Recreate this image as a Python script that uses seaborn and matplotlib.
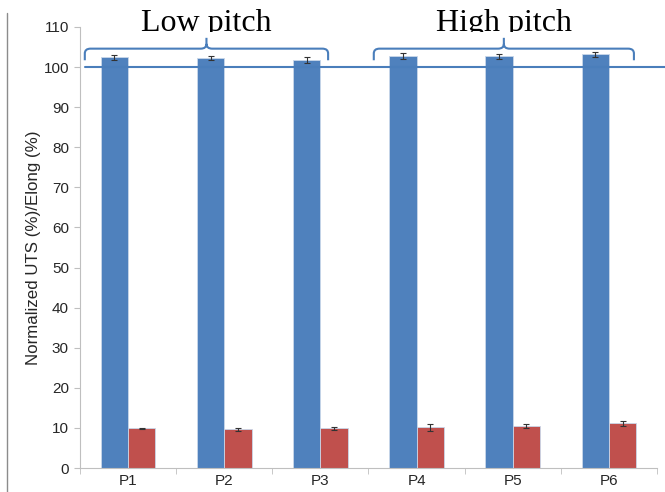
import matplotlib
matplotlib.use("Agg")
import matplotlib.pyplot as plt
import matplotlib.transforms as mtransforms
import seaborn as sns
import pandas as pd
import numpy as np
from matplotlib.path import Path
from matplotlib.patches import PathPatch
from matplotlib.transforms import Bbox, TransformedBbox
from matplotlib.lines import Line2D

categories = ["P1", "P2", "P3", "P4", "P5", "P6"]
uts = [102.4, 102.2, 101.8, 102.7, 102.7, 103.2]
uts_err = [0.6, 0.5, 0.7, 0.7, 0.6, 0.6]
elong = [9.9, 9.65, 9.95, 10.15, 10.5, 11.15]
elong_err = [0.2, 0.3, 0.35, 0.85, 0.5, 0.6]
series = ["UTS", "Elong"]
ref_level = 100
group_labels = ["Low pitch", "High pitch"]
group_spans = [(-0.45, 2.08), (2.555, 5.26)]

colors = ["#4F81BD", "#C0504D"]

df = pd.DataFrame({
    "cat": categories * 2,
    "val": uts + elong,
    "err": uts_err + elong_err,
    "series": [series[0]] * 6 + [series[1]] * 6,
})

sns.set_style("white")
plt.rcParams["font.family"] = ["Liberation Sans", "DejaVu Sans"]

fig = plt.figure(figsize=(6.65, 4.92), dpi=100)
ax = fig.add_axes([80 / 665, 1 - 468 / 492, 577 / 665, (468 - 27) / 492])

sns.barplot(data=df, x="cat", y="val", hue="series", palette=colors,
            width=0.57, errorbar=None, ax=ax, legend=False, saturation=1,
            edgecolor="#c9d7ea", linewidth=0.6)

# error bars from the bar patches
for i, s in enumerate(series):
    cont = ax.containers[i]
    xs = [p.get_x() + p.get_width() / 2 for p in cont]
    sub = df[df.series == s]
    ax.errorbar(xs, sub["val"].values, yerr=sub["err"].values, fmt="none",
                ecolor="#333333", elinewidth=0.8, capsize=2, capthick=0.8, zorder=5)

ax.set_ylim(0, 110)
ax.set_xlim(-0.5, 5.5)
ax.set_yticks(np.arange(0, 111, 10))
ax.set_xlabel("")
ax.set_ylabel("Normalized UTS (%)/Elong (%)", fontsize=12.2, labelpad=2)
ax.tick_params(axis="y", labelsize=11, length=4, color="#bfbfbf", left=True, pad=4)
ax.tick_params(axis="x", labelsize=11, length=0, pad=4)
for side in ["top", "right"]:
    ax.spines[side].set_visible(False)
for side in ["left", "bottom"]:
    ax.spines[side].set_color("#bfbfbf")
    ax.spines[side].set_linewidth(0.8)
# x minor ticks at category boundaries
ax.set_xticks(np.arange(-0.5, 6, 1), minor=True)
ax.tick_params(axis="x", which="minor", length=4, color="#bfbfbf", bottom=True)

# reference line at 100 extending past axes
ax.plot([-0.45, 6.1], [ref_level, ref_level], color="#4A7EBB", lw=1.5,
        clip_on=False, zorder=6)

# braces
def brace(x0, x1, y_end, y_mid, y_tip, r=0.06, ry=1.2):
    xm = (x0 + x1) / 2
    verts = [
        (x0, y_end), (x0, y_mid - ry), (x0, y_mid), (x0 + r, y_mid),
        (xm - r, y_mid), (xm, y_mid), (xm, y_mid + ry), (xm, y_tip),
        (xm, y_mid + ry), (xm, y_mid), (xm + r, y_mid),
        (x1 - r, y_mid), (x1, y_mid), (x1, y_mid - ry), (x1, y_end),
    ]
    codes = [Path.MOVETO, Path.LINETO, Path.CURVE3, Path.CURVE3,
             Path.LINETO, Path.CURVE3, Path.CURVE3, Path.LINETO,
             Path.MOVETO, Path.CURVE3, Path.CURVE3,
             Path.LINETO, Path.CURVE3, Path.CURVE3, Path.LINETO]
    return PathPatch(Path(verts, codes), fill=False, edgecolor="#4A7EBB",
                     lw=1.5, clip_on=False, zorder=6)

clip = TransformedBbox(Bbox([[0, 1 - 31.5 / 492], [1, 1]]), fig.transFigure)
trans = mtransforms.blended_transform_factory(ax.transData, fig.transFigure)
for (x0, x1), lab in zip(group_spans, group_labels):
    ax.add_patch(brace(x0, x1, 101.7, 104.6, 107.3))
    xm = (x0 + x1) / 2
    t = ax.text(xm, 1 - 30.7 / 492, lab, transform=trans,
                fontsize=23, family=["Liberation Serif", "DejaVu Serif"],
                ha="center", va="baseline", color="black")
    t.set_clip_box(clip)
    t.set_clip_on(True)

# left border line
fig.add_artist(Line2D([7 / 665, 7 / 665], [0, 1 - 13 / 492], color="#8c8c8c", lw=1,
                      transform=fig.transFigure))

fig.savefig("out.png", dpi=100)
